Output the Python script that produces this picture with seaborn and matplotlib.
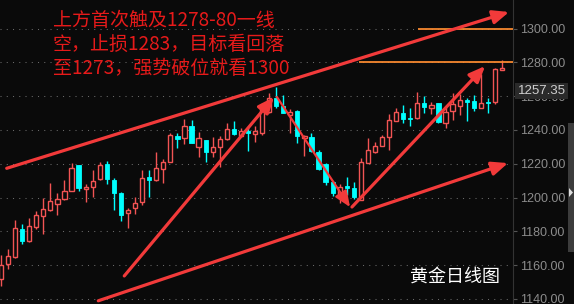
import numpy as np
import pandas as pd
import matplotlib
matplotlib.use("Agg")
import matplotlib.pyplot as plt
import matplotlib.transforms as mtransforms
from matplotlib.patches import Rectangle, Polygon
import seaborn as sns

# ---------------- data ----------------
opens = [1151.8, 1160.5, 1164.8, 1181.4, 1174.4, 1182.4, 1189.2, 1192.6, 1196.3, 1198.9,
         1204.0, 1219.2, 1204.9, 1206.4, 1210.8, 1219.8, 1210.4, 1202.7, 1190.6, 1193.6,
         1197.2, 1212.0, 1210.4, 1217.0, 1221.2, 1236.4, 1235.0, 1242.3, 1230.1, 1234.0,
         1226.7, 1229.7, 1234.4, 1240.4, 1236.4, 1239.5, 1237.4, 1238.3, 1250.8, 1258.7,
         1254.1, 1249.0, 1251.2, 1235.2, 1236.0, 1227.1, 1219.6, 1209.4, 1201.5, 1206.8,
         1205.8, 1198.5, 1220.6, 1227.1, 1230.6, 1235.6, 1245.4, 1250.2, 1247.2, 1246.9,
         1256.1, 1252.8, 1255.7, 1244.3, 1251.4, 1254.3, 1257.7, 1257.1, 1253.1, 1256.7,
         1256.3, 1275.4]
highs = [1166.0, 1169.5, 1186.7, 1184.3, 1187.7, 1192.0, 1199.5, 1208.6, 1202.7, 1210.4,
         1220.2, 1219.5, 1208.0, 1216.3, 1221.0, 1221.6, 1211.5, 1203.0, 1194.0, 1200.5,
         1216.3, 1216.3, 1226.7, 1222.6, 1238.0, 1238.3, 1246.4, 1245.9, 1238.6, 1234.2,
         1236.0, 1236.4, 1244.3, 1245.3, 1241.3, 1241.9, 1242.3, 1255.7, 1261.7, 1265.6,
         1260.7, 1252.2, 1251.8, 1237.0, 1238.3, 1228.1, 1220.2, 1209.6, 1208.0, 1212.3,
         1209.0, 1223.2, 1235.0, 1233.0, 1237.0, 1249.4, 1252.8, 1254.7, 1253.1, 1262.6,
         1260.1, 1256.7, 1255.9, 1253.4, 1261.7, 1261.2, 1258.7, 1260.7, 1272.9, 1258.7,
         1276.8, 1281.4]
lows = [1147.6, 1157.7, 1164.4, 1172.7, 1173.7, 1181.4, 1178.4, 1192.0, 1189.8, 1198.7,
        1203.8, 1204.0, 1197.5, 1200.5, 1210.4, 1208.2, 1192.4, 1186.3, 1182.1, 1190.2,
        1195.4, 1200.1, 1209.8, 1208.8, 1221.0, 1229.5, 1231.7, 1232.0, 1223.8, 1221.2,
        1223.8, 1218.2, 1234.0, 1237.0, 1235.6, 1227.7, 1233.0, 1237.0, 1249.8, 1252.8,
        1249.8, 1238.3, 1232.4, 1224.6, 1227.1, 1216.3, 1207.4, 1200.9, 1196.6, 1201.5,
        1199.1, 1198.3, 1220.2, 1226.5, 1230.4, 1228.1, 1245.3, 1244.3, 1242.5, 1246.4,
        1249.8, 1249.4, 1244.3, 1240.9, 1245.9, 1248.8, 1245.4, 1251.2, 1252.8, 1249.8,
        1255.1, 1275.4]
closes = [1160.1, 1165.2, 1181.8, 1174.4, 1183.0, 1189.5, 1193.0, 1197.8, 1198.9, 1204.0,
          1217.3, 1205.8, 1206.0, 1209.6, 1219.0, 1211.1, 1202.5, 1189.8, 1192.6, 1196.6,
          1211.7, 1210.4, 1217.3, 1220.8, 1237.0, 1234.8, 1242.5, 1232.4, 1235.0, 1227.1,
          1229.7, 1234.4, 1240.4, 1237.4, 1239.3, 1238.0, 1239.3, 1253.4, 1258.7, 1254.3,
          1250.2, 1250.6, 1236.6, 1236.4, 1227.7, 1216.7, 1209.4, 1202.5, 1206.4, 1205.8,
          1200.5, 1220.8, 1228.1, 1230.5, 1235.6, 1245.9, 1250.4, 1246.4, 1246.4, 1255.7,
          1253.7, 1254.7, 1244.9, 1250.4, 1255.1, 1257.7, 1256.7, 1253.1, 1255.7, 1256.1,
          1275.9, 1276.4]

# trend lines: (start index, start price, end index, end price)
trend_x0 = [0.81, 13.79, 17.47, 39.10, 49.74]
trend_y0 = [1217.3, 1138.9, 1153.6, 1259.5, 1194.4]
trend_x1 = [72.0, 71.85, 38.69, 49.46, 68.6]
trend_y1 = [1309.8, 1220.4, 1259.5, 1194.4, 1277.8]
trend_lw = [2.3, 2.3, 2.3, 1.6, 2.3]

level_prices = [1300, 1280]
level_start = [59.1, 50.7]

y_ticks = [1140, 1160, 1180, 1200, 1220, 1240, 1260, 1280, 1300]
last_price = "1257.35"
note_lines = ["上方首次触及1278-80一线", "空，止损1283，目标看回落", "至1273，强势破位就看1300"]
chart_title = "黄金日线图"

# ---------------- style ----------------
BG = "#0a0a0a"
UP = "#f25454"
DOWN = "#00ffff"
ARROW = "#f23a3a"
ORANGE = "#f7882f"
GRID = "#6a6a6a"
TICK = "#8c8c8c"

sns.set_theme(style="dark", rc={
    "axes.facecolor": BG, "figure.facecolor": BG, "savefig.facecolor": BG,
    "axes.edgecolor": "#333333", "grid.color": GRID,
})
plt.rcParams["font.family"] = ["Noto Sans CJK SC", "DejaVu Sans"]

df = pd.DataFrame({"i": np.arange(len(opens)), "open": opens, "high": highs,
                   "low": lows, "close": closes})
df["up"] = df["close"] >= df["open"]

fig = plt.figure(figsize=(5.74, 3.04), dpi=100)
ax = fig.add_axes([0, 0, 513 / 574, 1])
ax.set_facecolor(BG)

ax.set_xlim(-0.14, 72.56)
ax.set_ylim(1137.0, 1316.9)

# grid
ax.set_yticks(y_ticks)
ax.yaxis.grid(True, color=GRID, linewidth=0.75, linestyle=(0, (1, 5)))
ax.xaxis.grid(False)
ax.set_xticks([])

# wicks
colors = [UP if u else DOWN for u in df["up"]]
ax.vlines(df["i"], df["low"], df["high"], colors=colors, linewidth=1.0, zorder=2)

# bodies
bw = 0.6
for _, r in df.iterrows():
    lo = min(r["open"], r["close"])
    h = max(abs(r["close"] - r["open"]), 0.5)
    if r["up"]:
        ax.bar(r["i"], h, bottom=lo, width=bw, facecolor=BG, edgecolor=UP,
               linewidth=1.0, zorder=3)
    else:
        ax.bar(r["i"], h, bottom=lo, width=bw, facecolor=DOWN, edgecolor=DOWN,
               linewidth=0.6, zorder=3)

# orange levels
for lp, ls in zip(level_prices, level_start):
    ax.hlines(lp, ls, 72.56, colors=ORANGE, linewidth=1.3, zorder=4)

# arrows
for x0, y0, x1, y1, lw in zip(trend_x0, trend_y0, trend_x1, trend_y1, trend_lw):
    ax.annotate("", xy=(x1, y1), xytext=(x0, y0),
                arrowprops=dict(arrowstyle="-|>,head_length=0.8,head_width=0.34",
                                color=ARROW, lw=lw, shrinkA=0, shrinkB=0),
                zorder=5)

# axis styling
ax.yaxis.tick_right()
ax.tick_params(axis="y", colors="#555555", labelcolor=TICK, length=3, width=0.8,
               pad=2, labelsize=9, direction="out")
for lab in ax.get_yticklabels():
    lab.set_fontfamily(["Liberation Sans", "DejaVu Sans"])
ax.yaxis.set_major_formatter(matplotlib.ticker.FormatStrFormatter("%.2f"))
for s in ["top", "left", "bottom"]:
    ax.spines[s].set_visible(False)
ax.spines["right"].set_color("#333333")
ax.spines["right"].set_linewidth(0.8)

# last price box
trans = mtransforms.blended_transform_factory(ax.transAxes, ax.transData)
ax.text(1.009, 1263.0, last_price, transform=trans, va="center", ha="left",
        fontsize=9.5, color="#d0d0d0", family=["Liberation Sans", "DejaVu Sans"],
        bbox=dict(facecolor="#2a2a2a", edgecolor="none", pad=1.6), zorder=10,
        clip_on=False)

# notes
for k, line in enumerate(note_lines):
    fig.text(53 / 574, 1 - (20 + 24.3 * k) / 304, line, color="#e61a1a",
             fontsize=13.7, va="center", ha="left")

fig.text(455 / 574, 1 - 277 / 304, chart_title, color="#ffffff", fontsize=13,
         va="center", ha="center")

# scrollbar
fig.patches.append(Rectangle((568 / 574, 1 - 252 / 304), 6 / 574, 129 / 304,
                             transform=fig.transFigure, facecolor="#3c3c3c",
                             edgecolor="none"))
fig.patches.append(Polygon([(569 / 574, 1 - 188 / 304), (569 / 574, 1 - 197 / 304),
                            (573 / 574, 1 - 192.5 / 304)], closed=True,
                           transform=fig.transFigure, facecolor="#dddddd",
                           edgecolor="none"))

fig.savefig("out.png", dpi=100, facecolor=BG)
